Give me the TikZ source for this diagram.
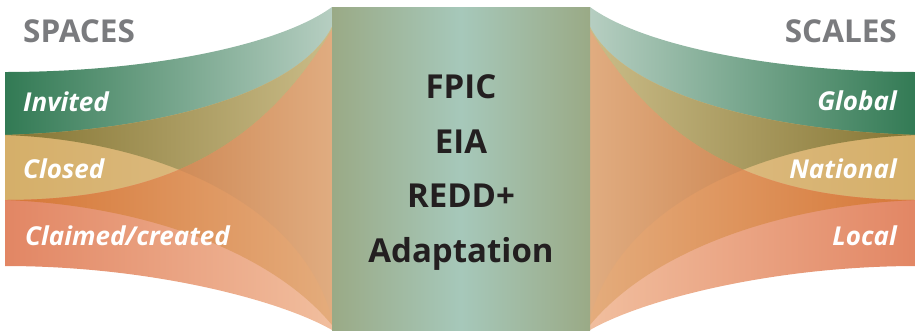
\documentclass[tikz,border=0pt]{standalone}
\usepackage{fontspec}
\setmainfont{Open Sans}
\usepackage{tikz}
\usepackage{xcolor}
\definecolor{invdark}{RGB}{50,122,84}
\definecolor{invlight}{RGB}{182,206,193}
\definecolor{clodark}{RGB}{213,175,105}
\definecolor{clolight}{RGB}{224,192,140}
\definecolor{cladark}{RGB}{226,134,100}
\definecolor{clalight}{RGB}{241,190,158}
\definecolor{olivedark}{RGB}{132,116,50}
\definecolor{olivelight}{RGB}{202,188,136}
\definecolor{rustdark}{RGB}{214,118,54}
\definecolor{rustlight}{RGB}{228,172,124}
\definecolor{tandark}{RGB}{190,102,42}
\definecolor{tanlight}{RGB}{224,172,128}
\definecolor{boxedge}{RGB}{154,170,134}
\definecolor{boxmid}{RGB}{166,200,186}
\definecolor{labelgray}{RGB}{122,123,126}
\definecolor{inktext}{RGB}{35,31,32}

% ribbon outlines, left half (x in pt, y downwards)
\newcommand{\invband}{(5,72) .. controls (150,72) and (280,45) .. (332,7) -- (332,318) .. controls (300,200) and (150,140) .. (5,135) -- cycle}
\newcommand{\cloband}{(5,135) .. controls (170,130) and (300,90) .. (332,27) -- (332,325) .. controls (270,250) and (140,205) .. (5,200) -- cycle}
\newcommand{\claband}{(5,200) .. controls (160,200) and (260,150) .. (332,30) -- (332,330) .. controls (280,300) and (150,266) .. (5,266) -- cycle}

% #1 = side of the dark end, #2 = side of the light end
\newcommand{\ribbonfan}[2]{%
    \shade[#1=invdark, #2=invlight] \invband;
    \shade[#1=clodark, #2=clolight] \cloband;
    \shade[#1=cladark, #2=clalight] \claband;
    % overlaps
    \begin{scope}
        \clip \invband;
        \shade[#1=olivedark, #2=olivelight] \cloband;
    \end{scope}
    \begin{scope}
        \clip \cloband;
        \shade[#1=rustdark, #2=rustlight] \claband;
    \end{scope}
    \begin{scope}
        \clip \invband;
        \clip \cloband;
        \shade[#1=tandark, #2=tanlight] \claband;
    \end{scope}
}

\begin{document}
\begin{tikzpicture}[
    x=1pt, y=-1pt,
    toolbox/.style={rectangle, minimum width=258pt, minimum height=323pt, inner sep=0pt, left color=boxedge, right color=boxedge, middle color=boxmid, align=center, text=inktext, text depth=0pt, font=\fontsize{33}{54.5}\selectfont\bfseries},
    headlabel/.style={inner sep=0pt, text=labelgray, font=\fontsize{31.5}{36}\selectfont\bfseries},
    bandlabel/.style={inner sep=0pt, text=white, font=\fontsize{26}{30}\selectfont\bfseries\itshape},
]
    \useasboundingbox (0,0) rectangle (915,333);

    % Spaces side
    \ribbonfan{left color}{right color}

    % Scales side
    \begin{scope}[xshift=922pt, xscale=-1]
        \ribbonfan{right color}{left color}
    \end{scope}

    % Tools in the middle
    \node[toolbox] (tools) at (461,168.5) {FPIC\\EIA\\REDD+\\Adaptation};

    % Headings
    \node[headlabel, anchor=base west] (spaces) at (23,42) {SPACES};
    \node[headlabel, anchor=base east] (scales) at (897,42) {SCALES};

    % Band labels
    \node[bandlabel, anchor=base west] (invited) at (23,111) {Invited};
    \node[bandlabel, anchor=base west] (closed) at (23,178) {Closed};
    \node[bandlabel, anchor=base west] (claimed) at (25,245) {Claimed/created};
    \node[bandlabel, anchor=base east] (global) at (897,110) {Global};
    \node[bandlabel, anchor=base east] (national) at (897,178) {National};
    \node[bandlabel, anchor=base east] (local) at (897,245) {Local};
\end{tikzpicture}
\end{document}
